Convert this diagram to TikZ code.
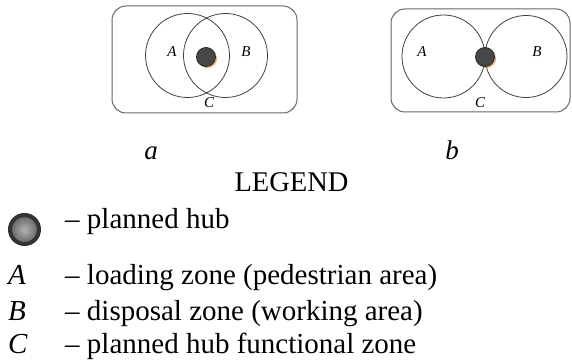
\documentclass[tikz,border=0pt]{standalone}
\usepackage{fontspec}
\setmainfont{Liberation Serif}
\usetikzlibrary{shadings}
\begin{document}
\begin{tikzpicture}[x=1pt,y=-1pt,
  zonebox/.style={draw=black!60, line width=1pt, rounded corners=14pt},
  zone/.style={draw=black!75, line width=0.8pt},
  hub/.style={circle, draw=black!85, line width=0.8pt, fill=black!72, minimum size=19pt, inner sep=0pt},
  hubshadow/.style={circle, fill=orange!60!brown, opacity=0.6, minimum size=19pt, inner sep=0pt},
  zlabel/.style={font=\fontsize{15}{17}\selectfont\itshape, inner sep=0pt},
  captxt/.style={font=\fontsize{28.5}{33}\selectfont, inner sep=0pt, anchor=base},
  capit/.style={font=\fontsize{27}{32}\selectfont\itshape, inner sep=0pt, anchor=base},
  legtext/.style={font=\fontsize{29}{34}\selectfont, inner sep=0pt, anchor=base west},
  legsym/.style={font=\fontsize{29}{34}\selectfont\itshape, inner sep=0pt, anchor=base west}]
\useasboundingbox (0,0) rectangle (572,363);
% diagram a
\draw[zonebox] (112,6) rectangle (297,113);
\draw[zone] (187.5,55.5) circle (42);
\draw[zone] (225.5,55.5) circle (42);
\node[hubshadow] (ash) at (207.5,58.5) {};
\node[hub] (ahub) at (206,57) {};
\node[zlabel] (aA) at (172,52) {A};
\node[zlabel] (aB) at (246,52) {B};
\node[zlabel] (aC) at (209,103) {C};
% diagram b
\draw[zonebox] (391,9) rectangle (570,112);
\draw[zone] (443.5,56.5) circle (41.5);
\draw[zone] (526,56.5) circle (41);
\node[hubshadow] (bsh) at (486.5,58.5) {};
\node[hub] (bhub) at (485,57) {};
\node[zlabel] (bA) at (422,52) {A};
\node[zlabel] (bB) at (537,52) {B};
\node[zlabel] (bC) at (480,103) {C};
% captions
\node[capit] (capa) at (151,160) {a};
\node[capit] (capb) at (452,160) {b};
\node[captxt] (legend) at (291.5,192) {LEGEND};
% legend
\node[circle, draw=black!80, line width=4pt, inner color=black!30, outer color=black!62, minimum size=29pt, inner sep=0pt] (lhub) at (24.5,229.5) {};
\node[legtext] (t0) at (65,228) {– planned hub};
\node[legsym] (sA) at (8,284) {A};
\node[legtext] (t1) at (65,284) {– loading zone (pedestrian area)};
\node[legsym] (sB) at (8,320) {B};
\node[legtext] (t2) at (65,320) {– disposal zone (working area)};
\node[legsym] (sC) at (8,353) {C};
\node[legtext] (t3) at (65,353) {– planned hub functional zone};
\end{tikzpicture}
\end{document}
